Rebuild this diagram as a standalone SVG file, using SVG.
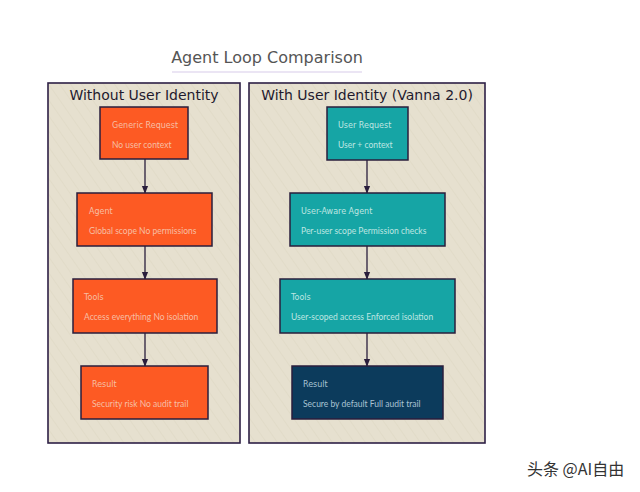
<svg xmlns="http://www.w3.org/2000/svg" width="640" height="492" viewBox="0 0 640 492">
<defs>
<pattern id="hatch" patternUnits="userSpaceOnUse" width="9" height="9" patternTransform="rotate(-35)">
<rect width="9" height="9" fill="#e6e0cf"/>
<line x1="0" y1="0" x2="0" y2="9" stroke="#d6ceb9" stroke-width="0.6"/>
</pattern>
<marker id="arr" viewBox="0 0 10 10" refX="9" refY="5" markerWidth="6" markerHeight="6" orient="auto-start-reverse">
<path d="M0,1 L10,5 L0,9 z" fill="#2a1e3c"/>
</marker>
</defs>
<style>
.cont{fill:url(#hatch);stroke:#2d2045;stroke-width:1.6}
.ctitle{font-family:"DejaVu Sans",sans-serif;font-size:14px;fill:#1f1a2e;text-anchor:middle}
.node{stroke:#2a1e3c;stroke-width:1.5}
.orange{fill:#fd5a23}
.teal{fill:#16a5a5}
.navy{fill:#0c3b5c}
.nt{font-family:"DejaVu Sans",sans-serif;font-size:8px}
.nd{font-family:Lato,"Noto Sans",sans-serif;font-size:8.5px}
.ot{fill:#f7bfa3}
.tt{fill:#bfe6e2}
.vt{fill:#a9c3d3}
.conn{stroke:#2a1e3c;stroke-width:1.3;fill:none;marker-end:url(#arr)}
</style>
<rect width="640" height="492" fill="#ffffff"/>
<g id="title">
<text x="267" y="63" font-family="DejaVu Sans, sans-serif" font-size="16" fill="#555555" text-anchor="middle">Agent Loop Comparison</text>
<line x1="172" y1="72" x2="362" y2="72" stroke="#e4dcf0" stroke-width="1.5"/>
</g>
<g id="left-container">
<rect class="cont" x="48" y="83" width="192" height="360"/>
<text class="ctitle" x="144" y="100">Without User Identity</text>
</g>
<g id="right-container">
<rect class="cont" x="249" y="83" width="236" height="360"/>
<text class="ctitle" x="367" y="100">With User Identity (Vanna 2.0)</text>
</g>
<g id="connectors">
<line class="conn" x1="145" y1="159" x2="145" y2="193"/>
<line class="conn" x1="145" y1="246" x2="145" y2="279"/>
<line class="conn" x1="145" y1="333" x2="145" y2="366"/>
<line class="conn" x1="367" y1="160" x2="367" y2="193"/>
<line class="conn" x1="367" y1="246" x2="367" y2="279"/>
<line class="conn" x1="367" y1="333" x2="367" y2="366"/>
</g>
<g id="generic-request">
<rect class="node orange" x="100" y="107" width="88" height="52"/>
<text class="nt ot" x="112" y="128">Generic Request</text>
<text class="nd ot" x="112" y="148">No user context</text>
</g>
<g id="agent">
<rect class="node orange" x="77" y="193" width="135" height="53"/>
<text class="nt ot" x="89" y="214">Agent</text>
<text class="nd ot" x="89" y="234">Global scope No permissions</text>
</g>
<g id="tools-left">
<rect class="node orange" x="73" y="279" width="144" height="54"/>
<text class="nt ot" x="84" y="300">Tools</text>
<text class="nd ot" x="84" y="320">Access everything No isolation</text>
</g>
<g id="result-left">
<rect class="node orange" x="81" y="366" width="127" height="53"/>
<text class="nt ot" x="92" y="387">Result</text>
<text class="nd ot" x="92" y="407">Security risk No audit trail</text>
</g>
<g id="user-request">
<rect class="node teal" x="327" y="107" width="81" height="53"/>
<text class="nt tt" x="338" y="128">User Request</text>
<text class="nd tt" x="338" y="148">User + context</text>
</g>
<g id="user-aware-agent">
<rect class="node teal" x="290" y="193" width="155" height="53"/>
<text class="nt tt" x="301" y="214">User-Aware Agent</text>
<text class="nd tt" x="301" y="234">Per-user scope Permission checks</text>
</g>
<g id="tools-right">
<rect class="node teal" x="280" y="279" width="175" height="54"/>
<text class="nt tt" x="291" y="300">Tools</text>
<text class="nd tt" x="291" y="320">User-scoped access Enforced isolation</text>
</g>
<g id="result-right">
<rect class="node navy" x="292" y="366" width="151" height="53"/>
<text class="nt vt" x="303" y="387">Result</text>
<text class="nd vt" x="303" y="407">Secure by default Full audit trail</text>
</g>
<g id="watermark">
<text x="527" y="475" font-family="Noto Sans CJK SC, sans-serif" font-size="16" fill="#333333">头条 @AI自由</text>
</g>
</svg>
